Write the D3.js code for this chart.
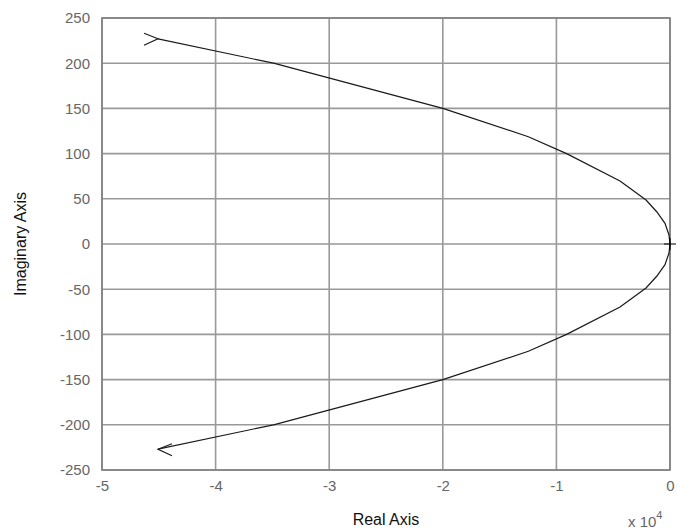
<!DOCTYPE html>
<html>
<head>
<meta charset="utf-8">
<script src="https://cdn.jsdelivr.net/npm/d3@7"></script>
<style>
  body { margin: 0; background: #fff; }
  text { font-family: "Liberation Sans", Arial, sans-serif; }
</style>
</head>
<body>
<svg></svg>
<script>
// upper branch of the nyquist curve (positive frequencies), real part and imaginary part
var realPart = [-45070, -34900, -20000, -12470, -9100, -4400, -2110, -1170, -440, -90, 0]
var imagPart = [227, 200, 150, 118.7, 100, 69.7, 48.7, 35.7, 22.9, 10, 0]
var xTicks = [-50000, -40000, -30000, -20000, -10000, 0]
var yTicks = [-250, -200, -150, -100, -50, 0, 50, 100, 150, 200, 250]

var width = 677
var height = 531
var mLeft = 102, mRight = 670, mTop = 18, mBottom = 470

var svg = d3.select("svg")
    .attr("width", width)
    .attr("height", height)

var x = d3.scaleLinear().domain([-50000, 0]).range([mLeft, mRight])
var y = d3.scaleLinear().domain([-250, 250]).range([mBottom, mTop])

// build both branches from the arrays
var upper = realPart.map(function(r, i) { return [r, imagPart[i]] })
var lower = upper.map(function(p) { return [p[0], -p[1]] }).reverse()

// grid
var grid = svg.append("g").attr("class", "grid")
grid.selectAll("line.v")
    .data(xTicks)
    .enter().append("line")
    .attr("x1", d => x(d)).attr("x2", d => x(d))
    .attr("y1", mTop).attr("y2", mBottom)
    .style("stroke", "#999").style("stroke-width", 1.6)
grid.selectAll("line.h")
    .data(yTicks)
    .enter().append("line")
    .attr("x1", mLeft).attr("x2", mRight)
    .attr("y1", d => y(d)).attr("y2", d => y(d))
    .style("stroke", "#999").style("stroke-width", 1.6)

// axes (labels only, lines drawn as box)
// plain hyphen for negatives like the original, not d3's unicode minus
svg.append("g")
    .attr("transform", "translate(0," + mBottom + ")")
    .call(d3.axisBottom(x).tickValues(xTicks).tickSize(0).tickPadding(10)
        .tickFormat(d => String(d / 10000)))
svg.append("g")
    .attr("transform", "translate(" + mLeft + ",0)")
    .call(d3.axisLeft(y).tickValues(yTicks).tickSize(0).tickPadding(12)
        .tickFormat(d => String(d)))
svg.selectAll(".domain").remove()
svg.selectAll(".tick text")
    .style("font-size", "15px")
    .style("font-family", "Liberation Sans, Arial, sans-serif")
    .style("fill", "#666")

// box
svg.append("rect")
    .attr("x", mLeft).attr("y", mTop)
    .attr("width", mRight - mLeft).attr("height", mBottom - mTop)
    .style("fill", "none").style("stroke", "#808080").style("stroke-width", 1.6)

// curve
var line = d3.line().x(d => x(d[0])).y(d => y(d[1]))
svg.append("path")
    .datum(upper)
    .attr("d", line)
    .style("fill", "none").style("stroke", "#1a1a1a").style("stroke-width", 1.2)
svg.append("path")
    .datum(lower)
    .attr("d", line)
    .style("fill", "none").style("stroke", "#1a1a1a").style("stroke-width", 1.2)

// direction arrows
function chevron(p, dir) {
  var px = x(p[0]), py = y(p[1])
  return "M" + (px - dir * 14) + "," + (py - 5.5) + "L" + px + "," + py + "L" + (px - dir * 14) + "," + (py + 6.5)
}
svg.append("path")
    .attr("d", chevron(upper[0], 1))
    .style("fill", "none").style("stroke", "#1a1a1a").style("stroke-width", 1.2)
svg.append("path")
    .attr("d", chevron(lower[lower.length - 1], -1))
    .style("fill", "none").style("stroke", "#1a1a1a").style("stroke-width", 1.2)

// critical point marker
var cx = x(0), cy = y(0)
svg.append("path")
    .attr("d", "M" + (cx - 6) + "," + cy + "H" + (cx + 6) + "M" + cx + "," + (cy - 6) + "V" + (cy + 6))
    .style("stroke", "#000").style("stroke-width", 1.2)

// labels
svg.append("text")
    .attr("x", (mLeft + mRight) / 2).attr("y", 525)
    .attr("text-anchor", "middle")
    .style("font-size", "16px").style("fill", "#111")
    .text("Real Axis")
svg.append("text")
    .attr("transform", "translate(26," + ((mTop + mBottom) / 2) + ") rotate(-90)")
    .attr("text-anchor", "middle")
    .style("font-size", "16px").style("fill", "#111")
    .text("Imaginary Axis")

var exp = svg.append("text")
    .attr("x", 628).attr("y", 527)
    .style("font-size", "15px").style("fill", "#666")
exp.append("tspan").text("x 10")
exp.append("tspan").attr("dy", -8).style("font-size", "11px").text("4")
</script>
</body>
</html>
